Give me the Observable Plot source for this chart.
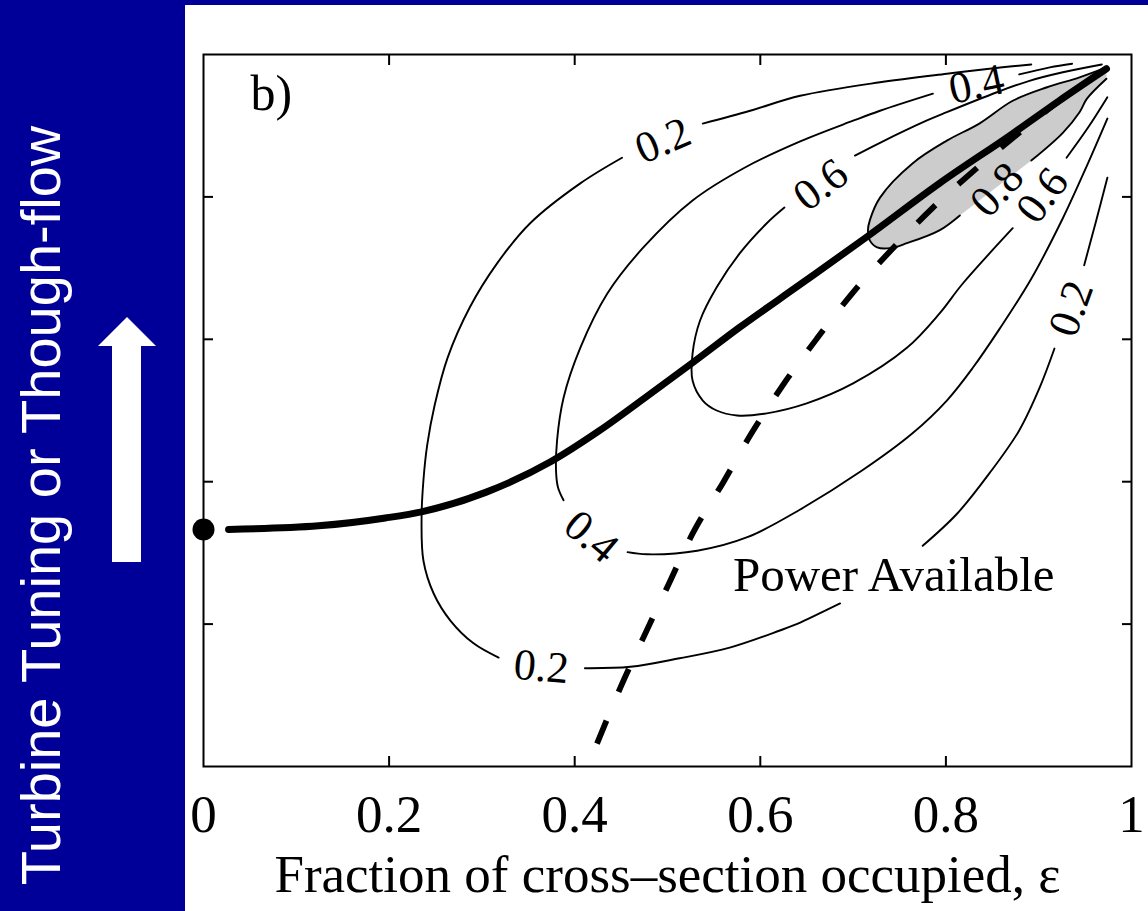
<!DOCTYPE html>
<html>
<head>
<meta charset="utf-8">
<script src="https://cdn.jsdelivr.net/npm/d3@7"></script>
<script src="https://cdn.jsdelivr.net/npm/@observablehq/plot@0.6"></script>
<style>
  html, body { margin: 0; padding: 0; background: #fff; }
  #wrap { position: relative; width: 1148px; height: 911px; overflow: hidden; background: #fff; }
  #band { position: absolute; left: 0; top: 0; width: 185px; height: 911px; background: #000099; }
  #topband { position: absolute; left: 0; top: 0; width: 1148px; height: 5px; background: #000099; }
  #arrow { position: absolute; left: 97px; top: 317px; }
  #chart { position: absolute; left: 0; top: 0; }
</style>
</head>
<body>
<div id="wrap">
  <div id="band"></div>
  <div id="topband"></div>
  <svg id="arrow" width="60" height="245" viewBox="0 0 60 245">
    <polygon points="30,0 59,29 44,29 44,245 15,245 15,29 1,29" fill="#ffffff"></polygon>
  </svg>
  <div id="chart"></div>
</div>
<script>
// ---- Data (x = fraction ε, y = tuning) ----
const xTicks = [0, 0.2, 0.4, 0.6, 0.8, 1];
const xTickLabels = ["0", "0.2", "0.4", "0.6", "0.8", "1"];
const minorTicks = [0.2, 0.4, 0.6, 0.8];

const xLabel = "Fraction of cross\u2013section occupied, \u03b5";
const yLabel = "Turbine Tuning or Though-flow";
const panelLabel = "b)";
const noteText = "Power Available";

// contour 0.2 (segments broken at labels / text box)
const contour02 = [
  [[0.892,0.986],[0.861,0.982],[0.801,0.973],[0.729,0.961],[0.643,0.942],[0.589,0.921],[0.538,0.903]],
  [[0.451,0.855],[0.406,0.819],[0.352,0.763],[0.316,0.706],[0.287,0.645],[0.263,0.574],[0.249,0.507],[0.241,0.451],[0.237,0.402],[0.235,0.350],[0.237,0.289],[0.248,0.243],[0.266,0.205],[0.291,0.173],[0.318,0.153]],
  [[0.411,0.138],[0.460,0.140],[0.513,0.152],[0.567,0.167],[0.621,0.191],[0.643,0.202],[0.686,0.229]],
  [[0.775,0.310],[0.812,0.355],[0.847,0.412],[0.879,0.472],[0.901,0.532],[0.917,0.587]],
  [[0.949,0.704],[0.962,0.767],[0.974,0.827]]
];
// contour 0.4
const contour04 = [
  [[0.936,0.987],[0.912,0.982],[0.879,0.972]],
  [[0.786,0.945],[0.729,0.921],[0.700,0.907],[0.643,0.878],[0.583,0.841],[0.527,0.795],[0.474,0.729],[0.435,0.664],[0.406,0.588],[0.388,0.518],[0.381,0.458],[0.380,0.412],[0.382,0.392],[0.388,0.374]],
  [[0.457,0.301],[0.478,0.298],[0.532,0.303],[0.586,0.322],[0.643,0.361],[0.710,0.416],[0.764,0.468],[0.801,0.514],[0.829,0.560],[0.858,0.615],[0.892,0.685],[0.926,0.770],[0.952,0.844],[0.974,0.910]]
];
// contour 0.6
const contour06 = [
  [[0.968,0.986],[0.926,0.975],[0.890,0.963],[0.855,0.947],[0.801,0.919],[0.779,0.907],[0.729,0.876],[0.702,0.858]],
  [[0.626,0.785],[0.607,0.763],[0.578,0.721],[0.553,0.673],[0.535,0.626],[0.527,0.580],[0.527,0.542],[0.538,0.514],[0.553,0.500],[0.575,0.493],[0.607,0.496],[0.650,0.510],[0.700,0.538],[0.758,0.588],[0.793,0.636],[0.818,0.678],[0.872,0.756]],
  [[0.930,0.855],[0.953,0.897],[0.974,0.940]]
];
// contour 0.8 (closed, filled grey)
const contour08Poly = [[0.973,0.982],[0.944,0.968],[0.909,0.954],[0.872,0.935],[0.836,0.903],[0.801,0.879],[0.764,0.847],[0.729,0.799],[0.718,0.767],[0.716,0.753],[0.718,0.739],[0.726,0.729],[0.740,0.728],[0.758,0.735],[0.793,0.753],[0.815,0.774],[0.892,0.851],[0.926,0.890],[0.944,0.919],[0.952,0.938],[0.973,0.966]];
const contour08 = [
  [[0.973,0.982],[0.944,0.968],[0.909,0.954],[0.872,0.935],[0.836,0.903],[0.801,0.879],[0.764,0.847],[0.729,0.799],[0.718,0.767],[0.716,0.753],[0.718,0.739],[0.726,0.729],[0.740,0.728],[0.758,0.735],[0.793,0.753],[0.815,0.774]],
  [[0.892,0.851],[0.926,0.890],[0.944,0.919],[0.952,0.938],[0.973,0.966]]
];

// contour labels
const labelText  = ["0.2", "0.2", "0.2", "0.4", "0.4", "0.6", "0.6", "0.8"];
const labelX     = [0.495, 0.364, 0.935, 0.833, 0.418, 0.665, 0.904, 0.855];
const labelY     = [0.879, 0.140, 0.643, 0.958, 0.323, 0.817, 0.802, 0.810];
const labelAngle = [-23, 5, -70, -12, 40, -37, -53, -47];

// thick solid curve (optimum tuning)
const solidX = [0.027, 0.124, 0.196, 0.236, 0.304, 0.374, 0.427, 0.478, 0.527, 0.578, 0.643, 0.715, 0.793, 0.872, 0.922, 0.973];
const solidY = [0.333, 0.338, 0.349, 0.358, 0.385, 0.428, 0.472, 0.520, 0.567, 0.617, 0.677, 0.744, 0.819, 0.889, 0.935, 0.980];
// thick dashed curve
const dashX = [0.424, 0.449, 0.474, 0.503, 0.527, 0.560, 0.591, 0.624, 0.661, 0.700, 0.743, 0.786, 0.833, 0.879, 0.922, 0.973];
const dashY = [0.032, 0.110, 0.181, 0.261, 0.327, 0.399, 0.469, 0.535, 0.601, 0.666, 0.728, 0.785, 0.840, 0.890, 0.935, 0.980];
// start point
const dotX = [0];
const dotY = [0.333];

// note position
const noteX = [0.5705];
const noteY = [0.2458];

// ---- build tables ----
function segRows(segs, level) {
  return segs.flatMap((s, i) => s.map(([x, y]) => ({x, y, seg: level + "-" + i})));
}
const contourRows = [
  ...segRows(contour02, "0.2"),
  ...segRows(contour04, "0.4"),
  ...segRows(contour06, "0.6"),
  ...segRows(contour08, "0.8")
];
const polyRows = contour08Poly.map(([x, y]) => ({x, y}));
const labelRows = labelText.map((t, i) => ({t, x: labelX[i], y: labelY[i], a: labelAngle[i]}));
const solidRows = solidX.map((x, i) => ({x, y: solidY[i]}));
const dashRows = dashX.map((x, i) => ({x, y: dashY[i]}));
const dotRows = dotX.map((x, i) => ({x, y: dotY[i]}));
const noteRows = noteX.map((x, i) => ({x, y: noteY[i], t: noteText}));

const serif = "'Liberation Serif', 'Times New Roman', Times, serif";
const sans = "'Liberation Sans', Arial, Helvetica, sans-serif";

const chart = Plot.plot({
  width: 1148,
  height: 911,
  marginLeft: 203,
  marginRight: 17,
  marginTop: 54,
  marginBottom: 145,
  x: {domain: [0, 1]},
  y: {domain: [0, 1]},
  style: {fontFamily: serif, background: "transparent", color: "black", overflow: "visible"},
  marks: [
    Plot.line(polyRows, {x: "x", y: "y", fill: "#cccccc", stroke: "none", curve: "linear-closed"}),
    Plot.line(contourRows, {x: "x", y: "y", z: "seg", stroke: "black", strokeWidth: 1.9, curve: "catmull-rom"}),
    Plot.text(labelRows, {x: "x", y: "y", text: "t", rotate: "a", fontSize: 44, lineAnchor: "middle", fill: "black"}),
    Plot.line(dashRows, {x: "x", y: "y", stroke: "black", strokeWidth: 5.8, strokeDasharray: "25,31", strokeLinecap: "butt", curve: "monotone-x"}),
    Plot.line(solidRows, {x: "x", y: "y", stroke: "black", strokeWidth: 7, curve: "monotone-x"}),
    Plot.dot(dotRows, {x: "x", y: "y", r: 11, fill: "black", stroke: "none"}),
    Plot.text(noteRows, {x: "x", y: "y", text: "t", textAnchor: "start", lineAnchor: "bottom", fontSize: 49, fill: "black"}),
    Plot.text([panelLabel], {text: d => d, frameAnchor: "top-left", dx: 47, dy: 20, textAnchor: "start", lineAnchor: "top", fontSize: 50, fill: "black"}),
    Plot.frame({stroke: "black", strokeWidth: 2}),
    Plot.axisX({anchor: "bottom", ticks: xTicks, tickSize: 0, tickPadding: 28, tickFormat: (d, i) => xTickLabels[i], fontSize: 53, label: xLabel, labelAnchor: "center", labelArrow: "none", labelOffset: 125, fontSize: 53}),
    Plot.axisX({anchor: "bottom", ticks: minorTicks, tickSize: -10, strokeWidth: 2, fill: "none"}),
    Plot.axisX({anchor: "top", ticks: minorTicks, tickSize: -10, strokeWidth: 2, fill: "none"}),
    Plot.axisY({anchor: "left", ticks: minorTicks, tickSize: -10, strokeWidth: 2, fill: "none"}),
    Plot.axisY({anchor: "right", ticks: minorTicks, tickSize: -10, strokeWidth: 2, fill: "none"}),
    Plot.text([yLabel], {text: d => d, frameAnchor: "left", rotate: -90, dx: -183, dy: 95, textAnchor: "middle", lineAnchor: "top", fontSize: 56, fontFamily: sans, fill: "white"})
  ]
});
chart.style.background = "transparent";
document.getElementById("chart").appendChild(chart);
</script>
</body>
</html>
